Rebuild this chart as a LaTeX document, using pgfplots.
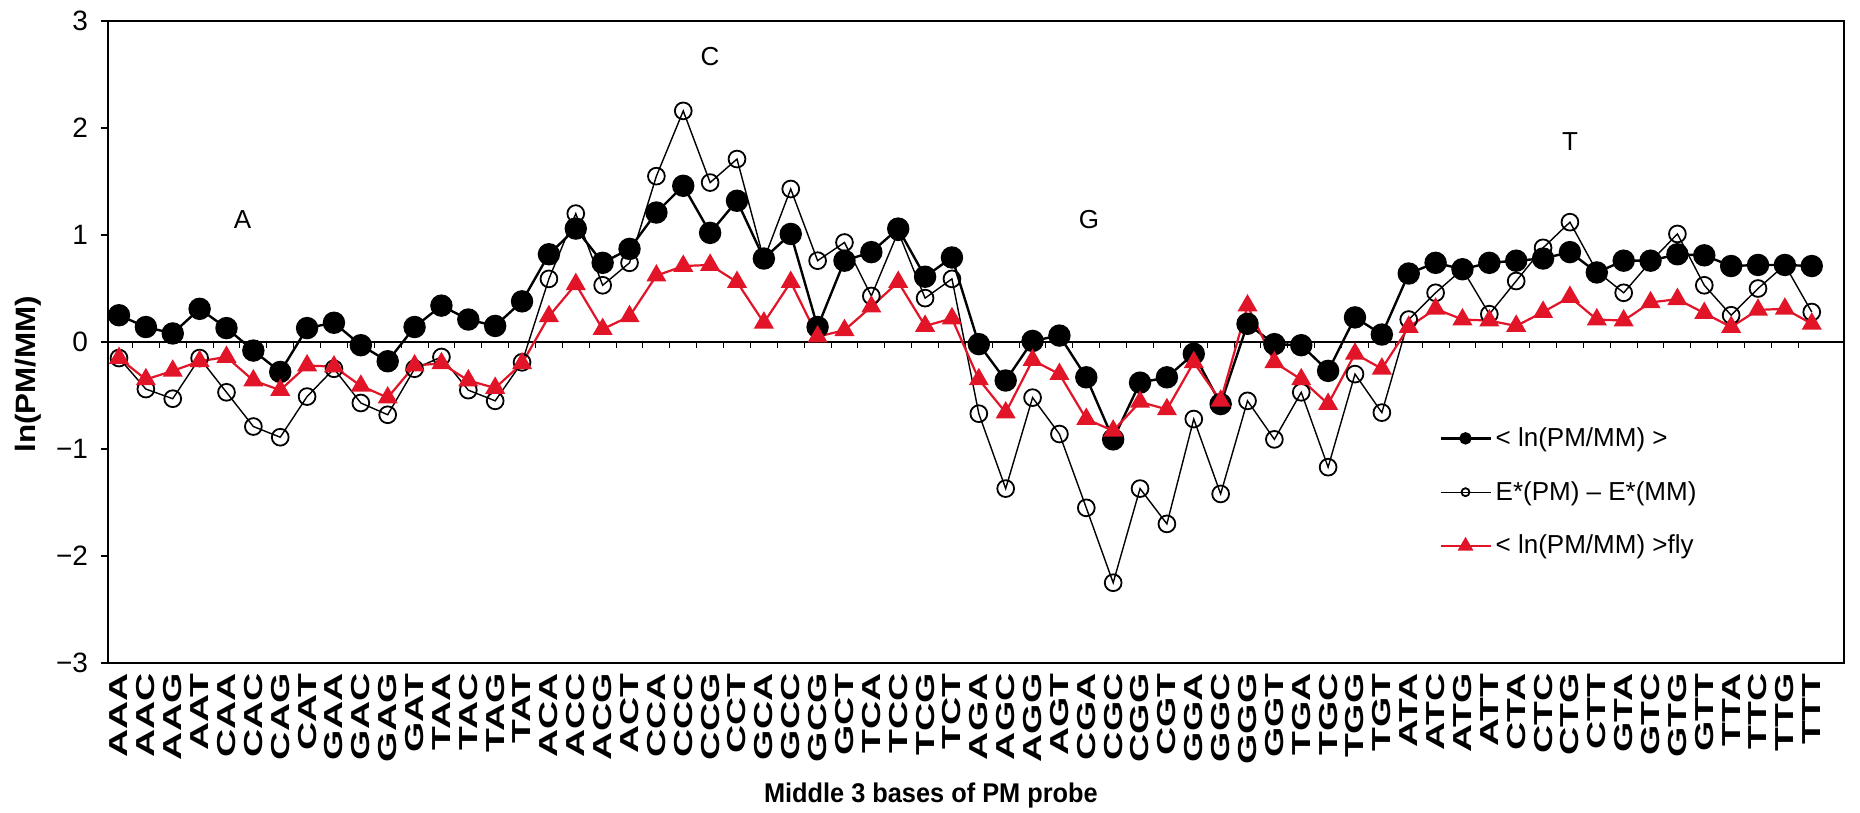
\documentclass[border=0pt]{standalone}
\usepackage{fontspec}
\setmainfont{Liberation Sans}
\usepackage{graphicx}
\usepackage{pgfplots}
\usepackage{pgfplotstable}
\pgfplotsset{compat=1.18}
\definecolor{myred}{RGB}{225,20,40}
\newcommand{\LL}[1]{\scalebox{1.5}[1]{#1}}
\pgfplotstableread{
x f o r
0 0.25 -0.15 -0.15
1 0.14 -0.44 -0.35
2 0.08 -0.53 -0.27
3 0.31 -0.15 -0.18
4 0.13 -0.47 -0.14
5 -0.08 -0.79 -0.36
6 -0.28 -0.89 -0.45
7 0.13 -0.51 -0.22
8 0.18 -0.25 -0.23
9 -0.03 -0.57 -0.41
10 -0.18 -0.68 -0.52
11 0.14 -0.25 -0.22
12 0.34 -0.14 -0.20
13 0.21 -0.45 -0.36
14 0.15 -0.55 -0.43
15 0.38 -0.19 -0.20
16 0.82 0.59 0.24
17 1.06 1.20 0.54
18 0.74 0.53 0.12
19 0.87 0.74 0.24
20 1.21 1.55 0.62
21 1.46 2.16 0.71
22 1.02 1.49 0.72
23 1.32 1.71 0.56
24 0.78 0.77 0.18
25 1.01 1.43 0.56
26 0.14 0.76 0.05
27 0.76 0.93 0.11
28 0.84 0.43 0.33
29 1.06 1.03 0.56
30 0.61 0.41 0.15
31 0.79 0.59 0.22
32 -0.02 -0.67 -0.35
33 -0.36 -1.37 -0.66
34 0.01 -0.52 -0.17
35 0.06 -0.86 -0.30
36 -0.33 -1.55 -0.72
37 -0.91 -2.25 -0.83
38 -0.38 -1.37 -0.56
39 -0.33 -1.70 -0.63
40 -0.11 -0.72 -0.19
41 -0.58 -1.42 -0.55
42 0.17 -0.55 0.34
43 -0.02 -0.91 -0.19
44 -0.03 -0.47 -0.35
45 -0.27 -1.17 -0.58
46 0.23 -0.30 -0.11
47 0.07 -0.66 -0.25
48 0.64 0.21 0.14
49 0.74 0.46 0.31
50 0.68 0.68 0.21
51 0.74 0.26 0.20
52 0.76 0.57 0.15
53 0.78 0.88 0.28
54 0.84 1.12 0.42
55 0.65 0.66 0.21
56 0.76 0.46 0.20
57 0.76 0.75 0.37
58 0.82 1.01 0.40
59 0.81 0.53 0.27
60 0.71 0.25 0.14
61 0.72 0.50 0.30
62 0.72 0.72 0.31
63 0.71 0.28 0.17
}\data
\begin{document}
\begin{tikzpicture}
\path[use as bounding box] (-54pt,-75pt) rectangle (876pt,331.5pt);
\begin{axis}[
  at={(0,0)}, anchor=south west,
  scale only axis, width=868pt, height=321pt,
  xmin=-0.41, xmax=64.2, ymin=-3, ymax=3,
  xtick={0,...,63},
  xticklabels={\LL{AAA},\LL{AAC},\LL{AAG},\LL{AAT},\LL{CAA},\LL{CAC},\LL{CAG},\LL{CAT},\LL{GAA},\LL{GAC},\LL{GAG},\LL{GAT},\LL{TAA},\LL{TAC},\LL{TAG},\LL{TAT},
    \LL{ACA},\LL{ACC},\LL{ACG},\LL{ACT},\LL{CCA},\LL{CCC},\LL{CCG},\LL{CCT},\LL{GCA},\LL{GCC},\LL{GCG},\LL{GCT},\LL{TCA},\LL{TCC},\LL{TCG},\LL{TCT},
    \LL{AGA},\LL{AGC},\LL{AGG},\LL{AGT},\LL{CGA},\LL{CGC},\LL{CGG},\LL{CGT},\LL{GGA},\LL{GGC},\LL{GGG},\LL{GGT},\LL{TGA},\LL{TGC},\LL{TGG},\LL{TGT},
    \LL{ATA},\LL{ATC},\LL{ATG},\LL{ATT},\LL{CTA},\LL{CTC},\LL{CTG},\LL{CTT},\LL{GTA},\LL{GTC},\LL{GTG},\LL{GTT},\LL{TTA},\LL{TTC},\LL{TTG},\LL{TTT}},
  xticklabel style={rotate=90, anchor=east, font=\fontsize{13}{13}\selectfont\bfseries, inner sep=1.5pt},
  x tick style={draw=none},
  ytick={-3,...,3}, yticklabels={−3,−2,−1,0,1,2,3},
  yticklabel style={font=\fontsize{14}{14}\selectfont, xshift=-3pt},
  ytick pos=left, xtick pos=bottom,
  tick align=outside, major tick length=3.5pt,
  tick style={line width=0.8pt, black},
  axis line style={line width=0.9pt},
  xlabel={\scalebox{1.03}[1.1]{Middle 3 bases of PM probe}},
  xlabel style={at={(axis description cs:0.474,-0.207)}, anchor=center, font=\fontsize{12.3}{13}\selectfont\bfseries},
  ylabel={\scalebox{1.12}[1]{ln(PM/MM)}},
  ylabel style={at={(axis description cs:-0.046,0.45)}, anchor=center, font=\fontsize{14}{14}\selectfont\bfseries},
  legend image code/.code={\draw[mark repeat=2,mark phase=2,#1] plot coordinates {(0pt,0pt) (12.5pt,0pt) (25pt,0pt)};},
  legend style={at={(axis cs:48.9,-0.72)}, anchor=north west, draw=none, fill=none,
    font=\fontsize{13}{15}\selectfont, row sep=12pt},
  legend cell align=left,
]
\draw[line width=1pt] (axis cs:-0.41,0) -- (axis cs:64.2,0);
\pgfplotsinvokeforeach{0,...,62}{\draw[line width=0.5pt] (axis cs:#1.5,0) -- ([yshift=-3pt]axis cs:#1.5,0);}
\addplot[black, line width=1.2pt, mark=*, mark size=5pt, legend image post style={mark size=2.5pt}] table[x=x,y=f]{\data};
\addlegendentry{< ln(PM/MM) >}
\addplot[black, line width=0.7pt, mark=o, mark size=4.2pt, mark options={line width=0.9pt}, legend image post style={mark size=2pt}] table[x=x,y=o]{\data};
\addlegendentry{E*(PM) – E*(MM)}
\addplot[myred, line width=1.1pt, mark=triangle*, mark size=4.7pt, legend image post style={mark size=3.5pt}] table[x=x,y=r]{\data};
\addlegendentry{< ln(PM/MM) >fly}
\node[font=\fontsize{13}{13}\selectfont] at (axis cs:4.6,1.14) {A};
\node[font=\fontsize{13}{13}\selectfont] at (axis cs:22.0,2.67) {C};
\node[font=\fontsize{13}{13}\selectfont] at (axis cs:36.1,1.14) {G};
\node[font=\fontsize{13}{13}\selectfont] at (axis cs:54.0,1.87) {T};
\end{axis}
\end{tikzpicture}
\end{document}
